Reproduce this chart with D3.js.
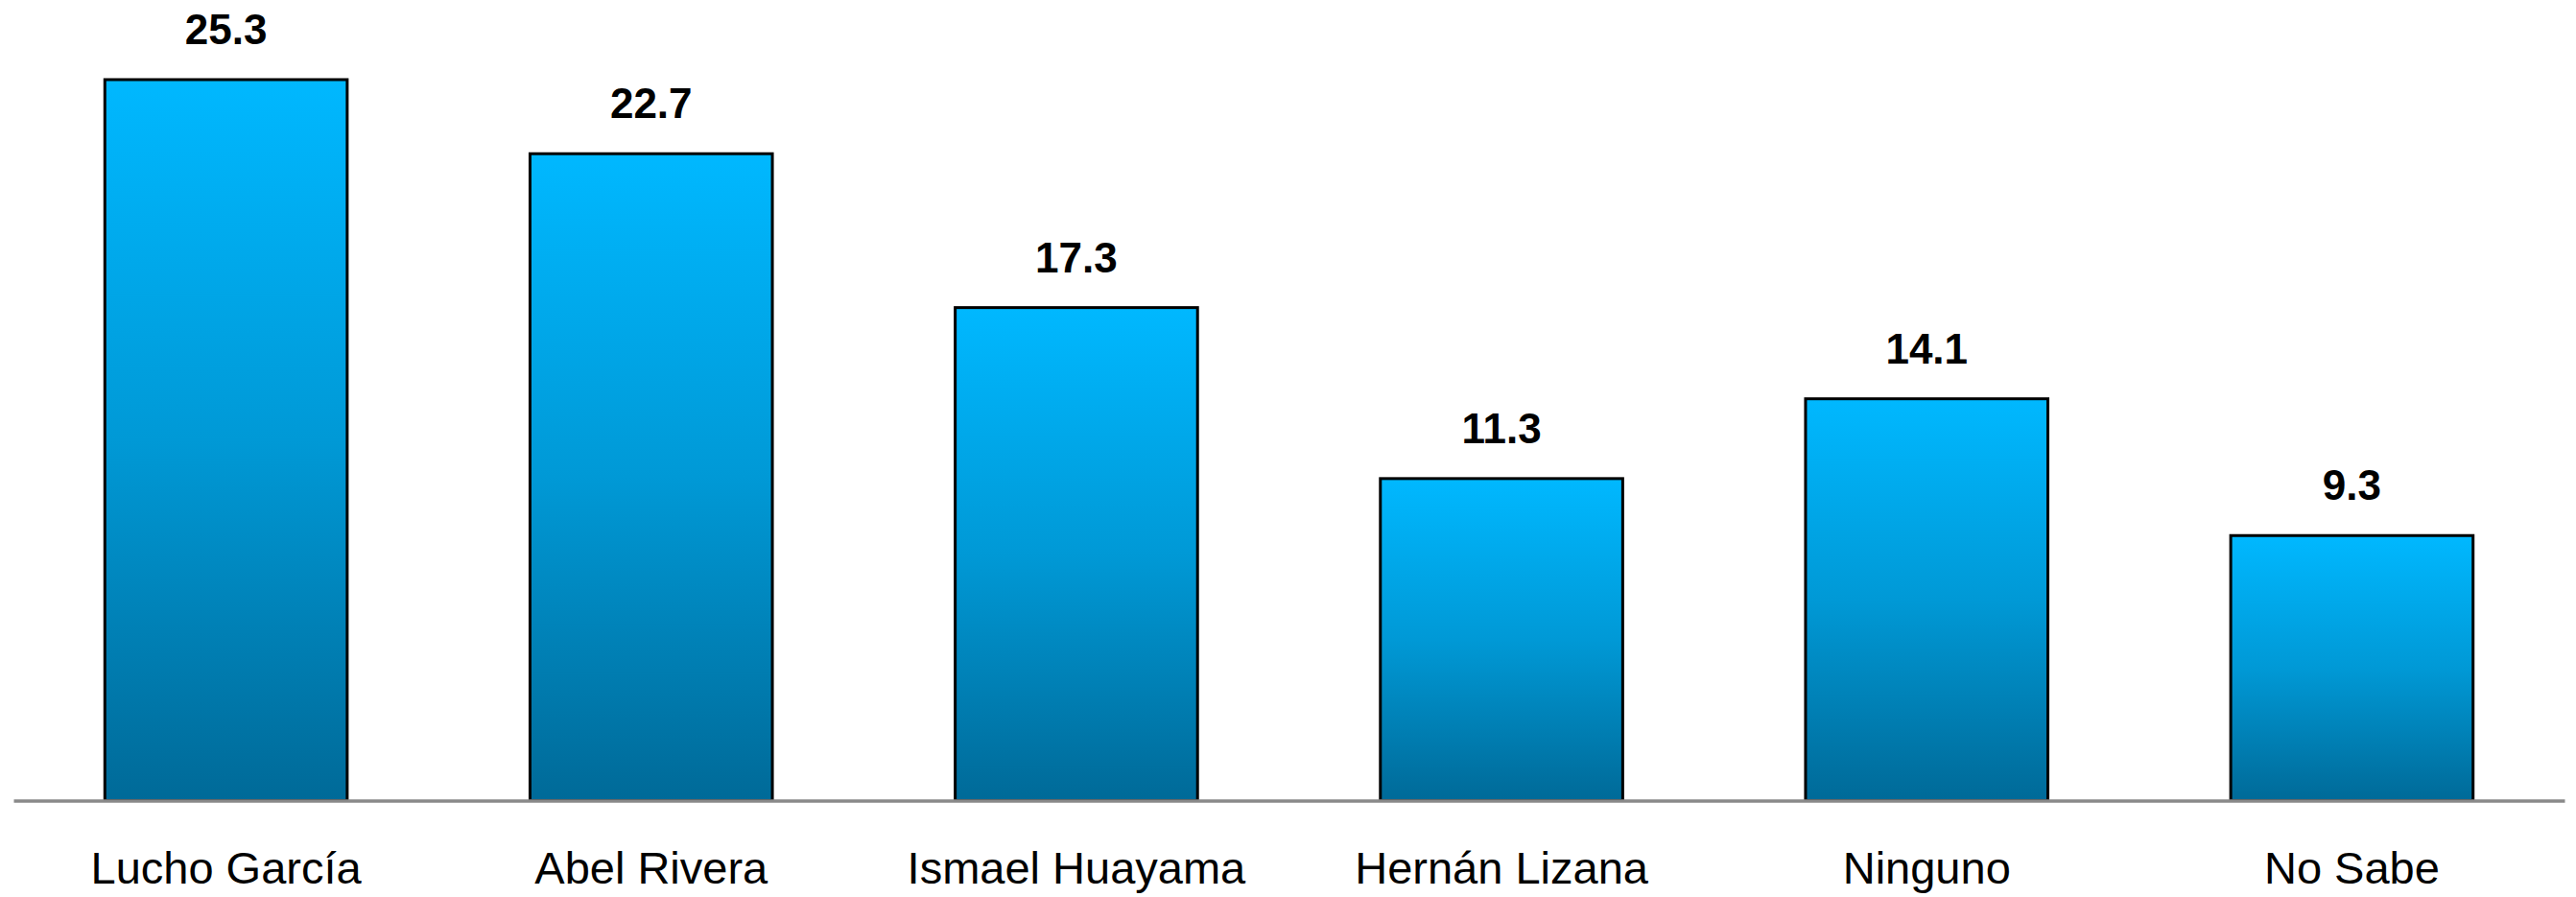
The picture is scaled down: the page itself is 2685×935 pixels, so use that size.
<!DOCTYPE html>
<html>
<head>
<meta charset="utf-8">
<script src="https://cdn.jsdelivr.net/npm/d3@7"></script>
<style>
  html, body { margin: 0; padding: 0; background: #fff; }
  svg { display: block; }
</style>
</head>
<body>
<div id="main"></div>
<script>
'use strict'

// chart data
const categories = ["Lucho García", "Abel Rivera", "Ismael Huayama", "Hernán Lizana", "Ninguno", "No Sabe"];
const values = [25.3, 22.7, 17.3, 11.3, 14.1, 9.3];
const valueLabels = ["25.3", "22.7", "17.3", "11.3", "14.1", "9.3"];

document.addEventListener('DOMContentLoaded', function(){
  drawBarChart();
});

function drawBarChart(){
  let svgWidth = 2685;
  let svgHeight = 935;
  let baseY = 834.5;

  let svg = d3.select('#main')
    .append('svg')
    .attr('width', svgWidth)
    .attr('height', svgHeight);

  // vertical gradient for the bars
  let grad = svg.append('defs')
    .append('linearGradient')
    .attr('id', 'barGrad')
    .attr('x1', 0).attr('y1', 0)
    .attr('x2', 0).attr('y2', 1);
  grad.append('stop').attr('offset', '0%').attr('stop-color', '#00b8ff');
  grad.append('stop').attr('offset', '50%').attr('stop-color', '#0099d6');
  grad.append('stop').attr('offset', '100%').attr('stop-color', '#006a98');

  let xScale = d3.scaleBand()
    .domain(categories)
    .range([14, 2673])
    .paddingInner(0.43)
    .paddingOuter(0.215);

  let yScale = d3.scaleLinear()
    .domain([0, 25.3])
    .range([baseY, 83]);

  // bars
  svg.selectAll('rect.bar')
    .data(values)
    .enter()
    .append('rect')
    .attr('class', 'bar')
    .attr('x', (d, i) => xScale(categories[i]))
    .attr('y', d => yScale(d))
    .attr('width', xScale.bandwidth())
    .attr('height', d => baseY - yScale(d))
    .attr('fill', 'url(#barGrad)')
    .attr('stroke', '#000')
    .attr('stroke-width', 3);

  // baseline
  let xAxis = d3.axisBottom(xScale).tickSize(0).tickPadding(0);
  let axisG = svg.append('g')
    .attr('transform', 'translate(0,' + baseY + ')')
    .call(xAxis);
  axisG.select('.domain')
    .attr('stroke', '#8a8a8a')
    .attr('stroke-width', 3.5);
  axisG.selectAll('.tick text')
    .attr('y', 86)
    .attr('dy', 0)
    .attr('fill', '#000')
    .style('font-family', '"Liberation Sans", Arial, sans-serif')
    .style('font-size', '47px');

  // value labels
  svg.selectAll('text.val')
    .data(values)
    .enter()
    .append('text')
    .attr('class', 'val')
    .attr('x', (d, i) => xScale(categories[i]) + xScale.bandwidth() / 2)
    .attr('y', d => yScale(d) - 37)
    .attr('text-anchor', 'middle')
    .style('font-family', '"Liberation Sans", Arial, sans-serif')
    .style('font-weight', 'bold')
    .style('font-size', '44px')
    .text((d, i) => valueLabels[i]);
}
</script>
</body>
</html>
